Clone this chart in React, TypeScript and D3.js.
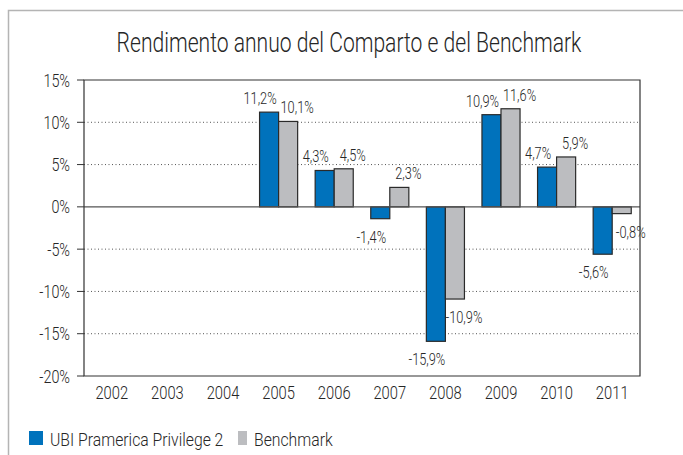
import { useRef, useEffect } from "react";
import * as d3 from "d3";

const years = ["2002", "2003", "2004", "2005", "2006", "2007", "2008", "2009", "2010", "2011"];
const fundValues = [null, null, null, 11.2, 4.3, -1.4, -15.9, 10.9, 4.7, -5.6];
const benchValues = [null, null, null, 10.1, 4.5, 2.3, -10.9, 11.6, 5.9, -0.8];
const yTicks = [-20, -15, -10, -5, 0, 5, 10, 15];
const seriesNames = ["UBI Pramerica Privilege 2", "Benchmark"];

const W = 683;
const H = 455;
const FONT = "Roboto, 'Liberation Sans', sans-serif";
const BLUE = "#0072bc";
const GREY = "#bcbdc0";
const TXT = "#262626";

// condensed text: the original uses a narrow face, so squeeze horizontally
function addText(g, x, y, str, size, anchor = "middle", sx = 0.8, weight = 300) {
  return g
    .append("text")
    .attr("transform", `translate(${x},${y}) scale(${sx},1)`)
    .attr("text-anchor", anchor)
    .attr("font-family", FONT)
    .attr("font-weight", weight)
    .attr("font-size", size)
    .attr("fill", TXT)
    .text(str);
}

export default function App() {
  const ref = useRef(null);

  useEffect(() => {
    const svg = d3.select(ref.current);
    svg.selectAll("*").remove();

    const left = 84, right = 640, top = 80, bottom = 376;

    const x = d3.scaleBand().domain(years).range([left, right]).padding(0);
    const xInner = d3
      .scaleBand()
      .domain(["fund", "bench"])
      .range([0, x.bandwidth()])
      .paddingInner(0)
      .paddingOuter(0.46);
    const y = d3.scaleLinear().domain([-20, 15]).range([bottom, top]);

    const fmt = (v) => v.toFixed(1).replace(".", ",") + "%";

    // outer frame
    svg.append("path")
      .attr("d", `M8.5,${H} V10.5 H${W}`)
      .attr("fill", "none")
      .attr("stroke", "#b4b4b4")
      .attr("stroke-width", 1.5);

    // title, squeezed to the original's width
    const title = addText(svg, 349, 52, "Rendimento annuo del Comparto e del Benchmark", 27, "middle", 1, 300);
    const tw = title.node().getComputedTextLength();
    title.attr("transform", `translate(349,52) scale(${465 / tw},1)`);

    // gridlines
    svg.append("g")
      .selectAll("line")
      .data(yTicks.filter((t) => t !== 0 && t !== 15 && t !== -20))
      .join("line")
      .attr("x1", left)
      .attr("x2", right)
      .attr("y1", (d) => y(d))
      .attr("y2", (d) => y(d))
      .attr("stroke", "#555")
      .attr("stroke-width", 1)
      .attr("stroke-dasharray", "1,2.5");

    // y ticks + labels
    const yg = svg.append("g");
    yg.selectAll("line")
      .data(yTicks)
      .join("line")
      .attr("x1", left - 7)
      .attr("x2", left)
      .attr("y1", (d) => y(d))
      .attr("y2", (d) => y(d))
      .attr("stroke", "#333");
    yTicks.forEach((t) => addText(yg, 70, y(t) + 6.5, t + "%", 18, "end"));

    // bars
    const rows = years.map((yr, i) => ({ yr, fund: fundValues[i], bench: benchValues[i] }));
    const series = [
      { key: "fund", color: BLUE, dx: -9 },
      { key: "bench", color: GREY, dx: 9 },
    ];
    series.forEach((s) => {
      const data = rows.filter((r) => r[s.key] != null);
      svg.append("g")
        .selectAll("rect")
        .data(data)
        .join("rect")
        .attr("x", (d) => x(d.yr) + xInner(s.key))
        .attr("width", xInner.bandwidth())
        .attr("y", (d) => y(Math.max(0, d[s.key])))
        .attr("height", (d) => Math.abs(y(d[s.key]) - y(0)))
        .attr("fill", s.color)
        .attr("stroke", "#2a2a2a")
        .attr("stroke-width", 1.2);
      const lg = svg.append("g");
      data.forEach((d) => {
        const v = d[s.key];
        const cx = x(d.yr) + xInner(s.key) + xInner.bandwidth() / 2 + s.dx;
        const ty = v >= 0 ? y(v) - 8 : y(v) + 24;
        addText(lg, cx, ty, fmt(v), 16);
      });
    });

    // zero line and frame
    svg.append("line")
      .attr("x1", left).attr("x2", right)
      .attr("y1", y(0)).attr("y2", y(0))
      .attr("stroke", "#555").attr("stroke-width", 1.2);
    svg.append("path")
      .attr("d", `M${left},${top} H${right} V${bottom} H${left} Z`)
      .attr("fill", "none")
      .attr("stroke", "#333")
      .attr("stroke-width", 1.2);

    // x labels
    const xg = svg.append("g");
    years.forEach((yr) => addText(xg, x(yr) + x.bandwidth() / 2, 399, yr, 18, "middle", 0.82));

    // legend
    const lg = svg.append("g");
    const legendX = [29, 238];
    const legendW = [14, 9];
    seriesNames.forEach((name, i) => {
      lg.append("rect")
        .attr("x", legendX[i])
        .attr("y", 431)
        .attr("width", legendW[i])
        .attr("height", 14)
        .attr("fill", i === 0 ? BLUE : GREY);
      addText(lg, legendX[i] + legendW[i] + 7, 446, name, 19, "start", 0.83);
    });
  }, []);

  return (
    <div style={{ position: "fixed", left: 0, top: 0, background: "#fff" }}>
      <svg ref={ref} width={W} height={H} style={{ display: "block" }}></svg>
    </div>
  );
}
